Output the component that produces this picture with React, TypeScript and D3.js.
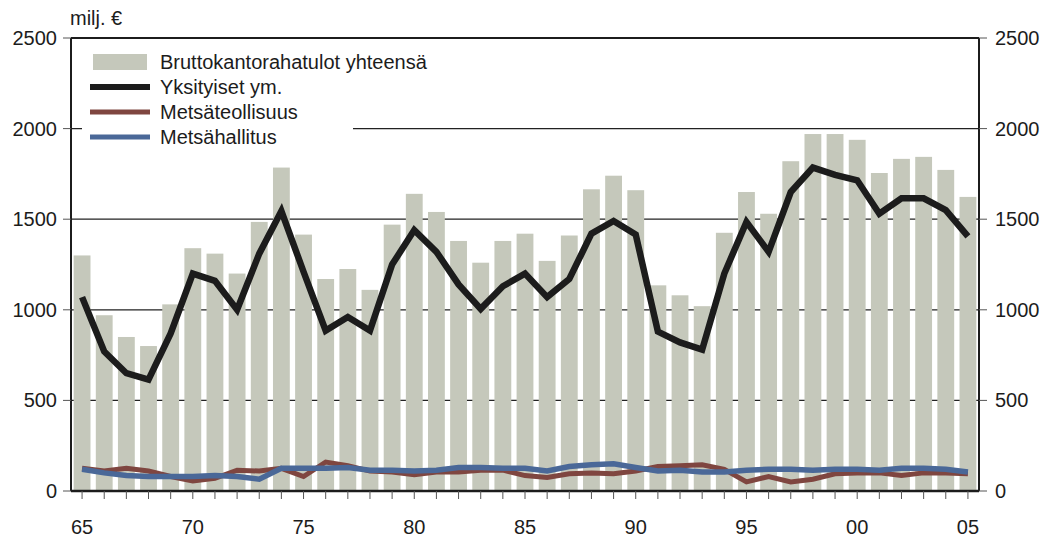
import React from "react";
import * as d3 from "d3";

const years = d3.range(1965, 2006);
const totalBars = [1300, 970, 850, 800, 1030, 1340, 1310, 1200, 1485, 1785, 1415, 1170, 1225, 1110, 1470, 1640, 1540, 1380, 1260, 1380, 1420, 1270, 1410, 1665, 1740, 1660, 1135, 1080, 1020, 1425, 1650, 1530, 1820, 1970, 1970, 1938, 1755, 1833, 1844, 1772, 1623];
const yksityiset = [1070, 770, 650, 615, 870, 1200, 1160, 1000, 1310, 1545, 1210, 885, 960, 885, 1250, 1440, 1320, 1140, 1005, 1130, 1200, 1070, 1170, 1420, 1490, 1415, 880, 820, 780, 1200, 1485, 1320, 1650, 1785, 1745, 1715, 1530, 1615, 1615, 1550, 1405];
const metsateollisuus = [125, 110, 125, 110, 80, 55, 70, 115, 110, 125, 80, 160, 140, 110, 105, 90, 105, 105, 115, 115, 85, 75, 95, 100, 95, 110, 135, 140, 145, 120, 50, 80, 50, 65, 95, 100, 100, 85, 100, 100, 95];
const metsahallitus = [120, 100, 85, 80, 80, 80, 85, 80, 65, 125, 125, 125, 130, 115, 115, 110, 115, 130, 130, 125, 125, 110, 135, 145, 150, 130, 110, 115, 105, 105, 115, 120, 120, 115, 120, 120, 115, 125, 125, 120, 105];
const yTicks = [0, 500, 1000, 1500, 2000, 2500];
const labelYears = [1965, 1970, 1975, 1980, 1985, 1990, 1995, 2000, 2005];

const W = 1045;
const H = 542;
const left = 71;
const right = 979;
const top = 38;
const bottom = 491;
const font = "'Liberation Sans', Arial, sans-serif";
const fs = 20;

export default function App() {
  const x = d3.scaleBand<number>().domain(years).range([left, right]).paddingInner(0.24).paddingOuter(0.12);
  const cx = (yr: number) => (x(yr) as number) + x.bandwidth() / 2;
  const y = d3.scaleLinear().domain([0, 2500]).range([bottom, top]);

  const line = (vals: number[]) =>
    d3.line<number>().x((_, i) => cx(years[i])).y((d) => y(d))(vals) as string;

  const legend = [
    { label: "Bruttokantorahatulot yhteensä", kind: "bar", color: "#c5c8bb" },
    { label: "Yksityiset ym.", kind: "line", color: "#1c1c1c" },
    { label: "Metsäteollisuus", kind: "line", color: "#7f4640" },
    { label: "Metsähallitus", kind: "line", color: "#4a6898" },
  ];

  return (
    <svg width={W} height={H} style={{ position: "absolute", left: 0, top: 0 }} fontFamily={font}>
      <rect x={0} y={0} width={W} height={H} fill="#fff" />
      {/* gridlines */}
      {yTicks.filter((t) => t > 0 && t < 2500).map((t) => (
        <line key={t} x1={left} x2={right} y1={y(t)} y2={y(t)} stroke="#222" strokeWidth={1.2} />
      ))}
      {/* bars */}
      {years.map((yr, i) => (
        <rect key={yr} x={x(yr)} y={y(totalBars[i])} width={x.bandwidth()} height={bottom - y(totalBars[i])} fill="#c5c8bb" />
      ))}
      {/* lines */}
      <path d={line(metsateollisuus)} fill="none" stroke="#7f4640" strokeWidth={5} strokeLinejoin="miter" />
      <path d={line(metsahallitus)} fill="none" stroke="#4a6898" strokeWidth={5.5} strokeLinejoin="miter" />
      <path d={line(yksityiset)} fill="none" stroke="#1c1c1c" strokeWidth={6.5} strokeLinejoin="miter" />
      {/* frame */}
      <line x1={left} x2={right} y1={top} y2={top} stroke="#1c1c1c" strokeWidth={2} />
      <line x1={left} x2={right} y1={bottom} y2={bottom} stroke="#1c1c1c" strokeWidth={2.5} />
      <line x1={left} x2={left} y1={top} y2={bottom} stroke="#1c1c1c" strokeWidth={2} />
      <line x1={right} x2={right} y1={top} y2={bottom} stroke="#1c1c1c" strokeWidth={2} />
      {/* y ticks and labels */}
      {yTicks.map((t) => (
        <g key={t}>
          <line x1={left - 8} x2={left} y1={y(t)} y2={y(t)} stroke="#555" strokeWidth={1} />
          <line x1={right} x2={right + 8} y1={y(t)} y2={y(t)} stroke="#555" strokeWidth={1} />
          <text x={57} y={y(t)} textAnchor="end" dominantBaseline="central" fontSize={fs} fill="#1c1c1c">{t}</text>
          <text x={995} y={y(t)} textAnchor="start" dominantBaseline="central" fontSize={fs} fill="#1c1c1c">{t}</text>
        </g>
      ))}
      {/* x ticks */}
      {years.map((yr) => (
        <line key={yr} x1={cx(yr)} x2={cx(yr)} y1={bottom} y2={bottom + 8} stroke="#555" strokeWidth={1} />
      ))}
      {labelYears.map((yr) => (
        <text key={yr} x={cx(yr)} y={527} textAnchor="middle" dominantBaseline="central" fontSize={fs} fill="#1c1c1c">
          {String(yr % 100).padStart(2, "0")}
        </text>
      ))}
      <text x={70} y={18} dominantBaseline="central" fontSize={fs} fill="#1c1c1c">milj. €</text>
      {/* legend */}
      <rect x={82} y={44} width={271} height={104} fill="#fff" />
      {legend.map((l, i) => {
        const ly = 62 + i * 25;
        return (
          <g key={l.label}>
            {l.kind === "bar" ? (
              <rect x={93} y={ly - 8} width={54} height={16} fill={l.color} />
            ) : (
              <line x1={90} x2={150} y1={ly} y2={ly} stroke={l.color} strokeWidth={l.color === "#1c1c1c" ? 6 : 5} />
            )}
            <text x={160} y={ly} dominantBaseline="central" fontSize={fs} fill="#1c1c1c">{l.label}</text>
          </g>
        );
      })}
    </svg>
  );
}
